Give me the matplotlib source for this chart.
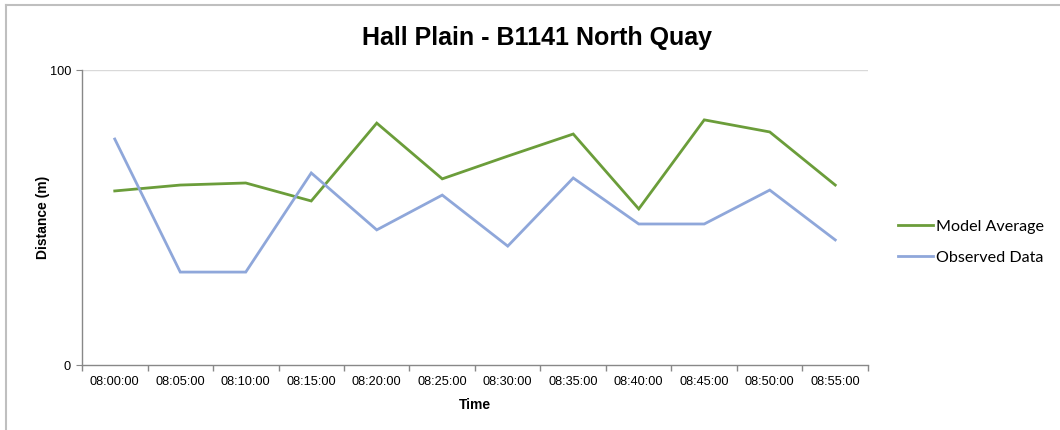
import matplotlib
matplotlib.use('Agg')
from matplotlib import pyplot as plt
from matplotlib.lines import Line2D

times = ['08:00:00', '08:05:00', '08:10:00', '08:15:00', '08:20:00', '08:25:00',
         '08:30:00', '08:35:00', '08:40:00', '08:45:00', '08:50:00', '08:55:00']
model_avg = [59.0, 61.0, 61.7, 55.6, 82.0, 63.1, 70.8, 78.3, 52.9, 83.1, 79.0, 61.0]
observed = [76.6, 31.5, 31.5, 65.1, 45.8, 57.6, 40.3, 63.4, 47.8, 47.8, 59.3, 42.4]

plt.rcParams['font.family'] = ['Liberation Sans', 'DejaVu Sans']

fig = plt.figure(figsize=(10.6, 4.3), dpi=100)
ax = fig.add_axes([82 / 1060, 65 / 430, 786 / 1060, 295 / 430])

x = list(range(len(times)))
ax.plot(x, model_avg, color='#6B9D3A', lw=2.0, label='Model Average', solid_joinstyle='miter')
ax.plot(x, observed, color='#8FA7DA', lw=2.0, label='Observed Data', solid_joinstyle='miter')

ax.set_xlim(-0.5, len(times) - 0.5)
ax.set_ylim(0, 100)
ax.set_yticks([0, 100])
ax.set_xticks(x)
ax.set_xticklabels(times, fontsize=9.2)
ax.set_xticks([i + 0.5 for i in range(-1, len(times))], minor=True)
ax.tick_params(axis='x', which='major', length=0, pad=8)
ax.tick_params(axis='x', which='minor', length=4, color='#888888', width=1)
ax.tick_params(axis='y', length=4, color='#888888', labelsize=9.2, pad=4)
ax.axhline(100, color='#d9d9d9', lw=1, zorder=0)

for s in ['top', 'right']:
    ax.spines[s].set_visible(False)
for s in ['left', 'bottom']:
    ax.spines[s].set_color('#888888')
    ax.spines[s].set_linewidth(1)

ax.set_xlabel('Time', fontsize=10, fontweight='bold', labelpad=7)
ax.set_ylabel('Distance (m)', fontsize=10, fontweight='bold', labelpad=0)
fig.text(537 / 1060, 1 - 38 / 430, 'Hall Plain - B1141 North Quay',
         fontsize=18, fontweight='bold', ha='center', va='center')

leg = fig.legend(loc='center left', bbox_to_anchor=(883 / 1060, 1 - 242 / 430),
                 frameon=False, prop={'family': 'Lato', 'size': 11.6},
                 handlelength=2.2, handletextpad=0.2, labelspacing=1.05)

# outer chart border (top and left edges visible)
fig.add_artist(Line2D([6 / 1060, 1], [1 - 5 / 430, 1 - 5 / 430], color='#bfbfbf', lw=1.5))
fig.add_artist(Line2D([6 / 1060, 6 / 1060], [0, 1 - 5 / 430], color='#bfbfbf', lw=1.5))

plt.savefig('out.png', dpi=100)
